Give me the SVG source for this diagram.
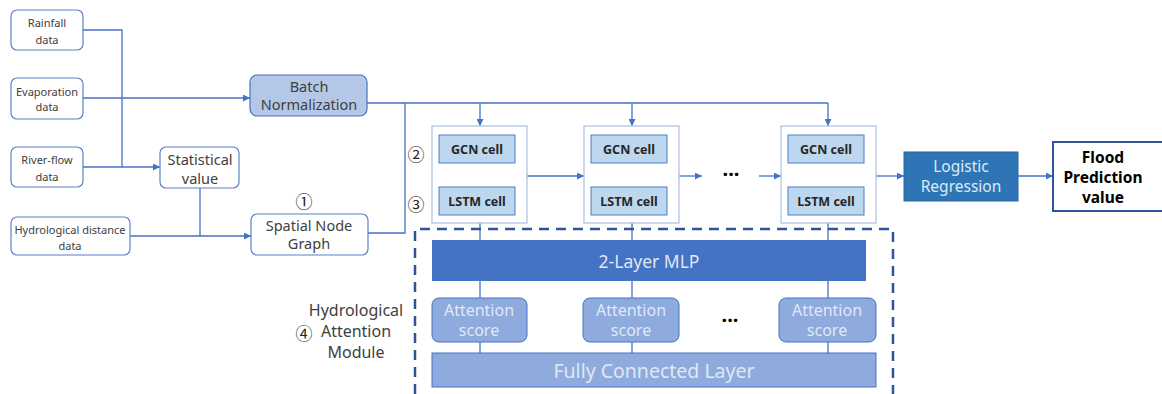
<svg xmlns="http://www.w3.org/2000/svg" width="1162" height="394" viewBox="0 0 1162 394">
  <defs>
    <marker id="arr" viewBox="0 0 10 10" refX="10" refY="5" markerWidth="7" markerHeight="7" markerUnits="userSpaceOnUse" orient="auto">
      <path d="M0,0 L10,5 L0,10 z" fill="#4472c4"/>
    </marker>
    <style>
      text { font-family: "Noto Sans", "Open Sans", "Liberation Sans", sans-serif; text-anchor: middle; dominant-baseline: central; }
      .in rect { fill: #ffffff; stroke: #5b82cc; stroke-width: 1.2; }
      .in text { font-size: 11px; fill: #404040; }
      .wb rect { fill: #ffffff; stroke: #5b82cc; stroke-width: 1.2; }
      .wb text { font-size: 14.5px; fill: #404040; }
      .bn rect { fill: #b4c7e7; stroke: #4472c4; stroke-width: 1.2; }
      .bn text { font-size: 14.5px; fill: #404040; }
      .cellbox { fill: #ffffff; stroke: #b0c4e8; stroke-width: 1.3; }
      .cell { fill: #bdd7ee; stroke: #4f7cc6; stroke-width: 1; }
      .celltxt { font-size: 12.5px; font-weight: bold; fill: #262626; }
      .mlp rect { fill: #4472c4; }
      .light { fill: #dfe8f6; }
      .att rect { fill: #8faadc; stroke: #4472c4; stroke-width: 1; }
      .attxt { font-size: 16px; }
      .num { font-family: "Noto Sans CJK SC", "DejaVu Sans", sans-serif; font-size: 17px; fill: #262626; }
      .lab { font-size: 16px; fill: #404040; }
      .conn path { fill: none; stroke: #4472c4; stroke-width: 1.3; }
      .dots { font-size: 20px; font-weight: bold; fill: #000000; }
    </style>
  </defs>

  <!-- connectors -->
  <g id="connectors" class="conn">
    <path d="M83,30 H122 V167"/>
    <path d="M83,167 H160" marker-end="url(#arr)"/>
    <path d="M83,98 H250" marker-end="url(#arr)"/>
    <path d="M200,188 V236"/>
    <path d="M130,236 H251" marker-end="url(#arr)"/>
    <path d="M367,103 H828"/>
    <path d="M368,233 H405 V103"/>
    <path d="M480,103 V126" marker-end="url(#arr)"/>
    <path d="M632,103 V126" marker-end="url(#arr)"/>
    <path d="M828,103 V126" marker-end="url(#arr)"/>
    <path d="M527,176 H584" marker-end="url(#arr)"/>
    <path d="M679,176 H702" marker-end="url(#arr)"/>
    <path d="M759,176 H781" marker-end="url(#arr)"/>
    <path d="M876,176 H904" marker-end="url(#arr)"/>
    <path d="M1018,176 H1053" marker-end="url(#arr)"/>
    <path d="M480,223 V353"/>
    <path d="M632,223 V353"/>
    <path d="M828,223 V353"/>
  </g>

  <!-- input data -->
  <g id="rainfall" class="in">
    <rect x="11" y="10" width="72" height="40" rx="6"/>
    <text x="47" y="22">Rainfall</text>
    <text x="47" y="39">data</text>
  </g>
  <g id="evaporation" class="in">
    <rect x="11" y="78" width="72" height="41" rx="6"/>
    <text x="47" y="91">Evaporation</text>
    <text x="47" y="106">data</text>
  </g>
  <g id="riverflow" class="in">
    <rect x="11" y="147" width="72" height="40" rx="6"/>
    <text x="47" y="159">River-flow</text>
    <text x="47" y="176">data</text>
  </g>
  <g id="hydrodistance" class="in">
    <rect x="11" y="217" width="119" height="38" rx="6"/>
    <text x="70" y="229">Hydrological distance</text>
    <text x="70" y="245">data</text>
  </g>

  <g id="statistical" class="wb">
    <rect x="160" y="147" width="79" height="41" rx="6"/>
    <text x="200" y="159">Statistical</text>
    <text x="200" y="178">value</text>
  </g>
  <g id="batchnorm" class="bn">
    <rect x="250" y="75" width="117" height="41" rx="7"/>
    <text x="309" y="86">Batch</text>
    <text x="309" y="104">Normalization</text>
  </g>
  <g id="spatialgraph" class="wb">
    <rect x="251" y="214" width="117" height="41" rx="6"/>
    <text x="309" y="225">Spatial Node</text>
    <text x="309" y="243">Graph</text>
  </g>
  <text class="num" x="304" y="200">①</text>
  <text class="num" x="416" y="153">②</text>
  <text class="num" x="416" y="203">③</text>

  <!-- GCN-LSTM units -->
  <g id="unit1">
    <rect class="cellbox" x="432" y="126" width="95" height="97"/>
    <rect class="cell" x="439" y="135" width="76" height="28"/>
    <text class="celltxt" x="477" y="149">GCN cell</text>
    <rect class="cell" x="439" y="187" width="76" height="28"/>
    <text class="celltxt" x="477" y="201">LSTM cell</text>
  </g>
  <g id="unit2">
    <rect class="cellbox" x="584" y="126" width="95" height="97"/>
    <rect class="cell" x="591" y="135" width="76" height="28"/>
    <text class="celltxt" x="629" y="149">GCN cell</text>
    <rect class="cell" x="591" y="187" width="76" height="28"/>
    <text class="celltxt" x="629" y="201">LSTM cell</text>
  </g>
  <text class="dots" x="731" y="173">···</text>
  <g id="unit3">
    <rect class="cellbox" x="781" y="126" width="95" height="97"/>
    <rect class="cell" x="788" y="135" width="76" height="28"/>
    <text class="celltxt" x="826" y="149">GCN cell</text>
    <rect class="cell" x="788" y="187" width="76" height="28"/>
    <text class="celltxt" x="826" y="201">LSTM cell</text>
  </g>

  <g id="logistic">
    <rect x="904" y="152" width="114" height="49" fill="#2e75b6" stroke="#2a66a0" stroke-width="1"/>
    <text class="light" x="961" y="166" style="font-size:15.5px">Logistic</text>
    <text class="light" x="961" y="186" style="font-size:15.5px">Regression</text>
  </g>
  <g id="flood">
    <rect x="1053" y="142" width="112" height="69" fill="#ffffff" stroke="#2f5597" stroke-width="2"/>
    <text x="1103" y="157" style="font-size:15.5px;font-weight:bold;fill:#000000">Flood</text>
    <text x="1103" y="177" style="font-size:15.5px;font-weight:bold;fill:#000000">Prediction</text>
    <text x="1103" y="197" style="font-size:15.5px;font-weight:bold;fill:#000000">value</text>
  </g>

  <!-- hydrological attention module -->
  <g id="attention-module">
    <path d="M415,394 V229 H893 V394" fill="none" stroke="#2f5597" stroke-width="2.5" stroke-dasharray="10 7"/>
    <text class="lab" x="356" y="310">Hydrological</text>
    <text class="lab" x="356" y="331">Attention</text>
    <text class="lab" x="356" y="352">Module</text>
    <text class="num" x="304" y="332">④</text>
  </g>
  <g id="mlp" class="mlp">
    <rect x="432" y="240" width="434" height="41"/>
    <text class="light" x="649" y="261" style="font-size:17.5px">2-Layer MLP</text>
  </g>
  <g id="att1" class="att">
    <rect x="432" y="298" width="95" height="44" rx="7"/>
    <text class="light attxt" x="479" y="310">Attention</text>
    <text class="light attxt" x="479" y="330">score</text>
  </g>
  <g id="att2" class="att">
    <rect x="583" y="298" width="96" height="44" rx="7"/>
    <text class="light attxt" x="631" y="310">Attention</text>
    <text class="light attxt" x="631" y="330">score</text>
  </g>
  <text class="dots" x="730" y="319">···</text>
  <g id="att3" class="att">
    <rect x="779" y="298" width="97" height="44" rx="7"/>
    <text class="light attxt" x="827" y="310">Attention</text>
    <text class="light attxt" x="827" y="330">score</text>
  </g>
  <g id="fc" class="att">
    <rect x="432" y="353" width="444" height="34"/>
    <text class="light" x="654" y="370" style="font-size:19.5px">Fully Connected Layer</text>
  </g>
</svg>
